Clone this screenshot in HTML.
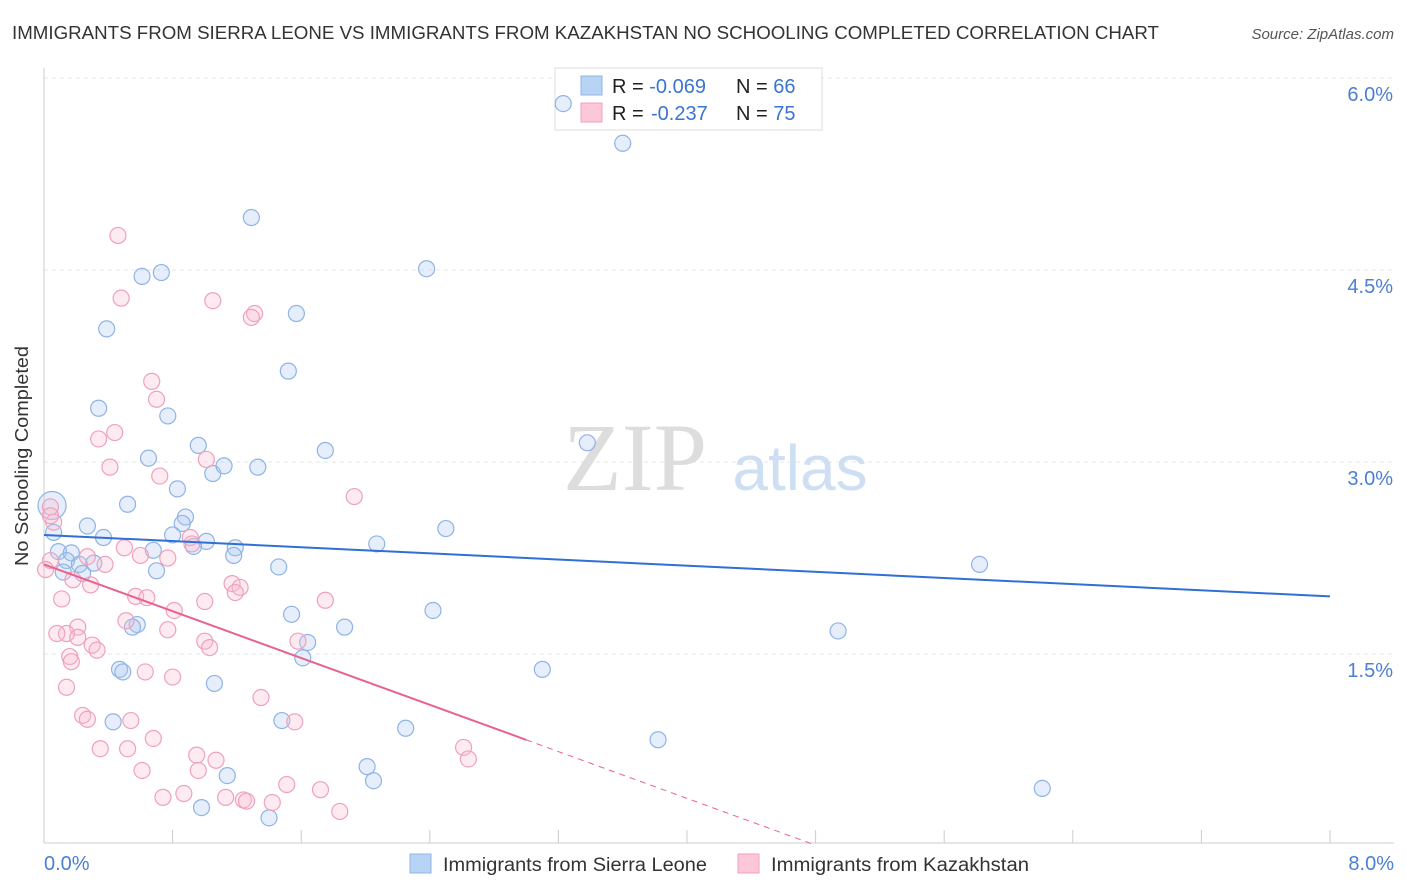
<!DOCTYPE html>
<html><head><meta charset="utf-8"><style>
body{margin:0;background:#fff;font-family:"Liberation Sans",sans-serif;}
svg{display:block}
</style></head><body>
<svg id="c" width="1406" height="892" viewBox="0 0 1406 892">
<text x="12" y="39" font-size="18" fill="#333" textLength="1147" lengthAdjust="spacingAndGlyphs">IMMIGRANTS FROM SIERRA LEONE VS IMMIGRANTS FROM KAZAKHSTAN NO SCHOOLING COMPLETED CORRELATION CHART</text>
<text x="1394" y="39" font-size="15" fill="#555" font-style="italic" text-anchor="end">Source: ZipAtlas.com</text>
<text x="28" y="456" font-size="18" fill="#333" text-anchor="middle" textLength="220" lengthAdjust="spacingAndGlyphs" transform="rotate(-90 28 456)">No Schooling Completed</text>
<g id="grid"></g>
<text x="635" y="490" font-size="96" fill="#ddd" font-family="Liberation Serif" text-anchor="middle">ZIP</text>
<text x="800" y="490" font-size="64" fill="#cfdff3" text-anchor="middle">atlas</text>
<g>
<rect x="555" y="68" width="267" height="62" fill="#fff" stroke="#ddd"/>
<rect x="581" y="76" width="21" height="19" fill="#b9d3f5" stroke="#8fb6e8"/>
<rect x="581" y="103" width="21" height="19" fill="#fcc8d8" stroke="#f0a0bc"/>
<text x="612" y="93" font-size="20" fill="#222">R = <tspan fill="#3a75d0">-0.069</tspan><tspan x="736">N = </tspan><tspan fill="#3a75d0">66</tspan></text>
<text x="612" y="120" font-size="20" fill="#222">R = <tspan fill="#3a75d0" x="651">-0.237</tspan><tspan x="736">N = </tspan><tspan fill="#3a75d0">75</tspan></text>
</g>
<g id="pts"></g>
<g id="lines"></g>
<g>
<rect x="410" y="854" width="21" height="19" fill="#b9d3f5" stroke="#8fb6e8"/>
<text x="443" y="871" font-size="19" fill="#333" textLength="264" lengthAdjust="spacingAndGlyphs">Immigrants from Sierra Leone</text>
<rect x="738" y="854" width="21" height="19" fill="#fcc8d8" stroke="#f0a0bc"/>
<text x="771" y="871" font-size="19" fill="#333" textLength="258" lengthAdjust="spacingAndGlyphs">Immigrants from Kazakhstan</text>
</g>
</svg>
<script>
const blueX=[3.23,3.60,1.29,0.61,0.73,2.38,0.39,1.57,1.52,0.34,0.77,0.96,0.65,1.75,1.05,1.12,1.33,0.83,3.38,0.52,0.06,0.88,0.86,0.27,0.37,0.80,1.01,0.93,2.50,2.07,0.68,1.19,1.18,0.09,0.17,0.14,0.22,0.31,0.70,1.46,5.82,0.12,0.24,2.42,1.54,1.64,1.87,0.58,0.55,4.94,1.61,0.47,0.49,3.10,1.06,0.43,1.48,2.25,3.82,2.01,1.14,2.05,6.21,0.98,1.40,0.05];
const blueY=[5.80,5.49,4.91,4.45,4.48,4.51,4.04,4.16,3.71,3.42,3.36,3.13,3.03,3.09,2.91,2.97,2.96,2.79,3.15,2.67,2.45,2.57,2.52,2.50,2.41,2.43,2.38,2.34,2.48,2.36,2.31,2.33,2.27,2.30,2.29,2.23,2.20,2.21,2.15,2.18,2.20,2.14,2.13,1.84,1.81,1.59,1.71,1.73,1.71,1.68,1.47,1.38,1.36,1.38,1.27,0.97,0.98,0.92,0.83,0.62,0.55,0.51,0.45,0.30,0.22,2.66];
const pinkX=[0.46,0.48,1.05,1.31,1.29,0.67,0.70,0.44,0.34,0.41,1.01,0.72,1.93,0.06,0.04,0.04,0.01,0.27,0.50,0.60,0.77,0.91,0.92,0.38,0.18,0.29,1.17,1.22,1.19,0.57,0.64,0.11,0.81,1.00,1.75,0.51,0.21,0.14,0.08,0.21,0.77,0.30,0.33,1.00,1.03,1.58,0.16,0.17,0.63,0.80,0.14,1.35,0.24,0.27,0.54,1.56,0.68,0.35,0.52,0.95,1.07,2.61,2.64,0.61,0.96,1.51,1.72,0.74,0.87,1.13,1.24,1.26,1.42,1.84,0.04];
const pinkY=[4.77,4.28,4.26,4.16,4.13,3.63,3.49,3.23,3.18,2.96,3.02,2.89,2.73,2.53,2.65,2.23,2.16,2.26,2.33,2.27,2.25,2.41,2.36,2.20,2.08,2.04,2.05,2.02,1.98,1.95,1.94,1.93,1.84,1.91,1.92,1.76,1.71,1.66,1.66,1.63,1.69,1.57,1.53,1.60,1.55,1.60,1.48,1.44,1.36,1.32,1.24,1.16,1.02,0.99,0.98,0.97,0.84,0.76,0.76,0.71,0.67,0.77,0.68,0.59,0.59,0.48,0.44,0.38,0.41,0.38,0.36,0.35,0.34,0.27,2.58];
const yTicks=[1.5,3.0,4.5,6.0];
const blueTrend=[2.43,1.95];
const pinkTrend=[2.20,-0.457];
const NS='http://www.w3.org/2000/svg';
const sx=v=>44+v*160.75, sy=v=>846-v*128;
function mk(t,a,p){const e=document.createElementNS(NS,t);for(const k in a)e.setAttribute(k,a[k]);p.appendChild(e);return e;}
const grid=document.getElementById('grid');
yTicks.forEach(v=>{
 const l=mk('line',{x1:44,x2:1394,y1:sy(v),y2:sy(v),stroke:'#e6e6e6','stroke-dasharray':'4,4'},grid);
 
 
 const t=mk('text',{x:1393,y:sy(v)+23,'font-size':20,fill:'#4a7fd6','text-anchor':'end'},grid);
 t.textContent=v.toFixed(1)+'%';
 
 
});
mk('line',{x1:44,x2:44,y1:68,y2:843,stroke:'#ccc'},grid);
mk('line',{x1:44,x2:1394,y1:843,y2:843,stroke:'#ccc'},grid);
for(let i=0;i<=10;i++){const tk=mk('line',{x1:sx(i*0.8),x2:sx(i*0.8),y1:830,y2:843,stroke:'#ccc'},grid);
 
 }
const t0=mk('text',{x:44,y:870,'font-size':20,fill:'#4a7fd6'},grid);t0.textContent='0.0%';


const t1=mk('text',{x:1394,y:870,'font-size':20,fill:'#4a7fd6','text-anchor':'end'},grid);t1.textContent='8.0%';


const pts=document.getElementById('pts');
blueX.forEach((x,i)=>{const c=mk('circle',{cx:sx(x),cy:sy(blueY[i]),r:i==blueX.length-1?14:8,fill:'rgba(170,200,240,0.3)',stroke:'#8fb3e6','stroke-width':1.2},pts);
 
 });
pinkX.forEach((x,i)=>{const c=mk('circle',{cx:sx(x),cy:sy(pinkY[i]),r:8,fill:'rgba(250,190,210,0.3)',stroke:'#f0a0bc','stroke-width':1.2},pts);
 
 });
const ln=document.getElementById('lines');
const bl=mk('line',{x1:sx(0),y1:sy(blueTrend[0]),x2:sx(8),y2:sy(blueTrend[1]),stroke:'#2f6fd6','stroke-width':2},ln);


const pl=mk('line',{x1:sx(0),y1:sy(pinkTrend[0]),x2:sx(3),y2:sy(pinkTrend[0]+pinkTrend[1]*3),stroke:'#e8628e','stroke-width':2},ln);


const pd=mk('line',{x1:sx(3),y1:sy(pinkTrend[0]+pinkTrend[1]*3),x2:sx(4.8),y2:sy(pinkTrend[0]+pinkTrend[1]*4.8),stroke:'#e8628e','stroke-width':1,'stroke-dasharray':'6,5'},ln);


</script>
</body></html>
